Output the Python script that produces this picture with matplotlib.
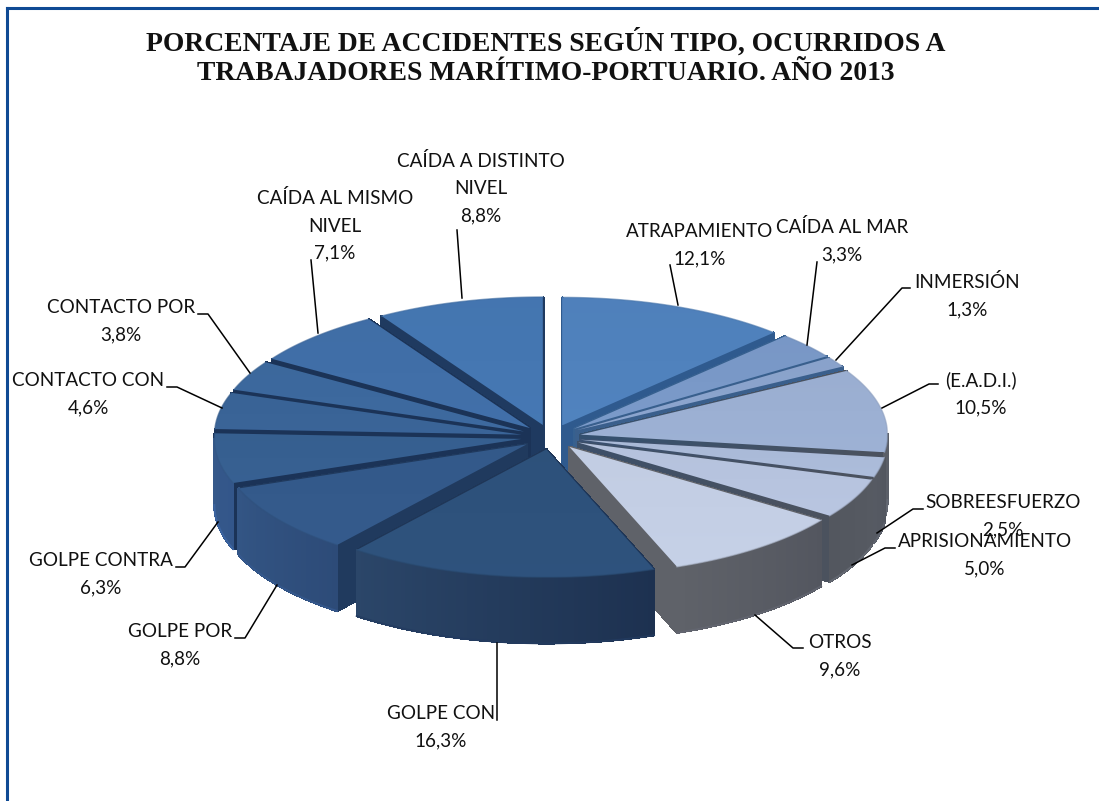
import numpy as np
import matplotlib
matplotlib.use("Agg")
import matplotlib.pyplot as plt
from matplotlib.collections import PolyCollection
from matplotlib.colors import to_rgb
from matplotlib.patches import Polygon

# Data
categories = ["ATRAPAMIENTO", "CAÍDA AL MAR", "INMERSIÓN", "(E.A.D.I.)", "SOBREESFUERZO",
              "APRISIONAMIENTO", "OTROS", "GOLPE CON", "GOLPE POR", "GOLPE CONTRA",
              "CONTACTO CON", "CONTACTO POR", "CAÍDA AL MISMO\nNIVEL", "CAÍDA A DISTINTO\nNIVEL"]
values = [12.1, 3.3, 1.3, 10.5, 2.5, 5.0, 9.6, 16.3, 8.8, 6.3, 4.6, 3.8, 7.1, 8.8]
title = "PORCENTAJE DE ACCIDENTES SEGÚN TIPO, OCURRIDOS A\nTRABAJADORES MARÍTIMO-PORTUARIO. AÑO 2013"

# Colours per slice
top_colors = ["#5082bd", "#7a99c8", "#8ba4cd", "#9cb0d3", "#abbbd9", "#b7c4df", "#c4cfe5",
              "#2e527c", "#345a8b", "#376091", "#3a6497", "#3d699e", "#416fa8", "#4577b2"]
radial_colors = ["#2f5a8e", "#36608f", "#3a5f8c", "#34506f", "#3a5070", "#3c4f68", "#5f6269",
                 "#1f3657", "#203a5e", "#1b3357", "#1b3357", "#1b3357", "#1b3357", "#1f3a60"]
radial_rim = ["#2f5a8e", "#36608f", "#3a5f8c", "#4c525e", "#4c525e", "#4c525e", "#5f6269",
              "#1f3657", "#203a5e", "#1b3357", "#1b3357", "#1b3357", "#1b3357", "#1f3a60"]
wall_left = ["#34598f", "#456a9c", "#50719e", "#5b5f68", "#565a63", "#53575f", "#5f6269",
             "#2b4669", "#335584", "#36598a", "#3a6094", "#3a6094", "#3a6094", "#3a6094"]
wall_right = ["#34598f", "#456a9c", "#50719e", "#565a63", "#52565f", "#565a62", "#53565f",
              "#1d3150", "#2d4b78", "#33568a", "#3a6094", "#3a6094", "#3a6094", "#3a6094"]

# Pie geometry in pixels
cx, cy = 551, 437
rx, ry = 307, 128
explode = 30
depth = 66

fig = plt.figure(figsize=(10.99, 8.01), dpi=100)
ax = fig.add_axes([0, 0, 1, 1])

edges = np.concatenate([[0], np.cumsum(values)]) / np.sum(values) * 2 * np.pi


def shade(color, factor):
    return tuple(min(1, c * factor) for c in to_rgb(color))


slices = []
for i in range(len(values)):
    t0, t1 = edges[i], edges[i + 1]
    mid = (t0 + t1) / 2
    ax0 = cx + explode * np.sin(mid)
    ay0 = cy - explode * ry / rx * np.cos(mid)
    slices.append((ay0 + ry * 0.5 * -np.cos(mid), i, t0, t1, ax0, ay0))

# back slices first
for order, (_, i, t0, t1, ax0, ay0) in enumerate(sorted(slices)):
    z = 10 + order * 5
    ts = np.linspace(t0, t1, 80)
    arc_x = ax0 + rx * np.sin(ts)
    arc_y = ay0 - ry * np.cos(ts)

    # radial faces, the one further back first, fading from apex to rim
    faces = sorted([(arc_x[0], arc_y[0]), (arc_x[-1], arc_y[-1])], key=lambda p: p[1])
    r0, r1 = np.array(to_rgb(radial_colors[i])), np.array(to_rgb(radial_rim[i]))
    for px, py in faces:
        fr = np.linspace(0, 1, 25)
        xs = ax0 + (px - ax0) * fr
        ys = ay0 + (py - ay0) * fr
        quads = [[(xs[k], ys[k]), (xs[k + 1], ys[k + 1]), (xs[k + 1], ys[k + 1] + depth), (xs[k], ys[k] + depth)]
                 for k in range(len(fr) - 1)]
        cols = [r0 * (1 - f) + r1 * f for f in fr[:-1]]
        ax.add_collection(PolyCollection(quads, facecolors=cols, edgecolors=cols, linewidths=1,
                                         antialiaseds=False, zorder=z))

    # outer wall, front facing part only
    quads, cols = [], []
    c0, c1 = np.array(to_rgb(wall_left[i])), np.array(to_rgb(wall_right[i]))
    for k in range(len(ts) - 1):
        if np.cos((ts[k] + ts[k + 1]) / 2) > 0:
            continue
        quads.append([(arc_x[k], arc_y[k]), (arc_x[k + 1], arc_y[k + 1]),
                      (arc_x[k + 1], arc_y[k + 1] + depth), (arc_x[k], arc_y[k] + depth)])
        f = k / (len(ts) - 1)
        # wedge angle runs right to left across the front
        cols.append(c1 * (1 - f) + c0 * f)
    if quads:
        ax.add_collection(PolyCollection(quads, facecolors=cols, edgecolors=cols, linewidths=1,
                                         antialiaseds=False, zorder=z + 1))
        low = np.array([q[3] for q in quads] + [quads[-1][2]])
        ax.plot(low[:, 0], low[:, 1], color=shade(wall_right[i], 1.2), lw=1.4, alpha=0.8, zorder=z + 1)

    # top face with a soft vertical gradient
    outline = np.vstack([[ax0, ay0], np.column_stack([arc_x, arc_y])])
    grad = np.linspace(0, 1, 64)[:, None, None]
    ctop = np.array(shade(top_colors[i], 0.99))
    cbot = np.array(shade(top_colors[i], 1.01))
    img = ctop * (1 - grad) + cbot * grad
    box = (outline[:, 0].min(), outline[:, 0].max(), outline[:, 1].max(), outline[:, 1].min())
    im = ax.imshow(img, extent=box, aspect="auto", zorder=z + 2, interpolation="bilinear")
    clip = Polygon(outline, closed=True, transform=ax.transData)
    im.set_clip_path(clip)
    ax.plot(arc_x, arc_y, color=shade(top_colors[i], 0.9), lw=1.0, alpha=0.6, zorder=z + 3)

# Labels and leader lines
label_pos = [(700, 245.5), (842, 241), (967, 295.5), (981, 393.5), (1003, 516.5), (985, 555.5), (840, 656),
             (441, 727), (180, 645), (101, 574), (88, 394.5), (121, 321), (335, 225.5), (481, 188.5)]
leaders = [
    [(670, 265), (678, 305)],
    [(817, 262), (807, 345)],
    [(910, 288), (902, 288), (836, 360)],
    [(938, 384), (929, 384), (882, 408)],
    [(923, 509), (913, 509), (877, 533)],
    [(895, 548), (885, 548), (852, 565)],
    [(755, 615), (793, 648), (803, 648)],
    [(497, 643), (497, 720)],
    [(277, 585), (245, 638), (235, 638)],
    [(218, 522), (185, 567), (176, 567)],
    [(222, 408), (177, 387), (167, 387)],
    [(250, 373), (208, 314), (198, 314)],
    [(311, 260), (318, 333)],
    [(457, 230), (462, 298)],
]
for name, val, pos, line in zip(categories, values, label_pos, leaders):
    pts = np.array(line)
    ax.plot(pts[:, 0], pts[:, 1], color="black", lw=1.1, zorder=200)
    txt = name + "\n" + f"{val:.1f}".replace(".", ",") + "%"
    ax.text(pos[0], pos[1], txt, ha="center", va="center", family="Lato", fontsize=13.6,
            color="#111111", linespacing=1.72, zorder=210)

ax.text(546, 57, title, ha="center", va="center", family="Liberation Serif", weight="bold",
        fontsize=19.9, color="#111111", linespacing=1.24, zorder=210)

# Frame, open on the right and at the bottom
ax.plot([7, 7], [801, 8], color="#0f4a94", lw=2.2, zorder=220, solid_capstyle="projecting")
ax.plot([7, 1099], [8, 8], color="#0f4a94", lw=2.2, zorder=220, solid_capstyle="projecting")

ax.set_xlim(0, 1099)
ax.set_ylim(801, 0)
ax.axis("off")
fig.savefig("out.png", dpi=100)
